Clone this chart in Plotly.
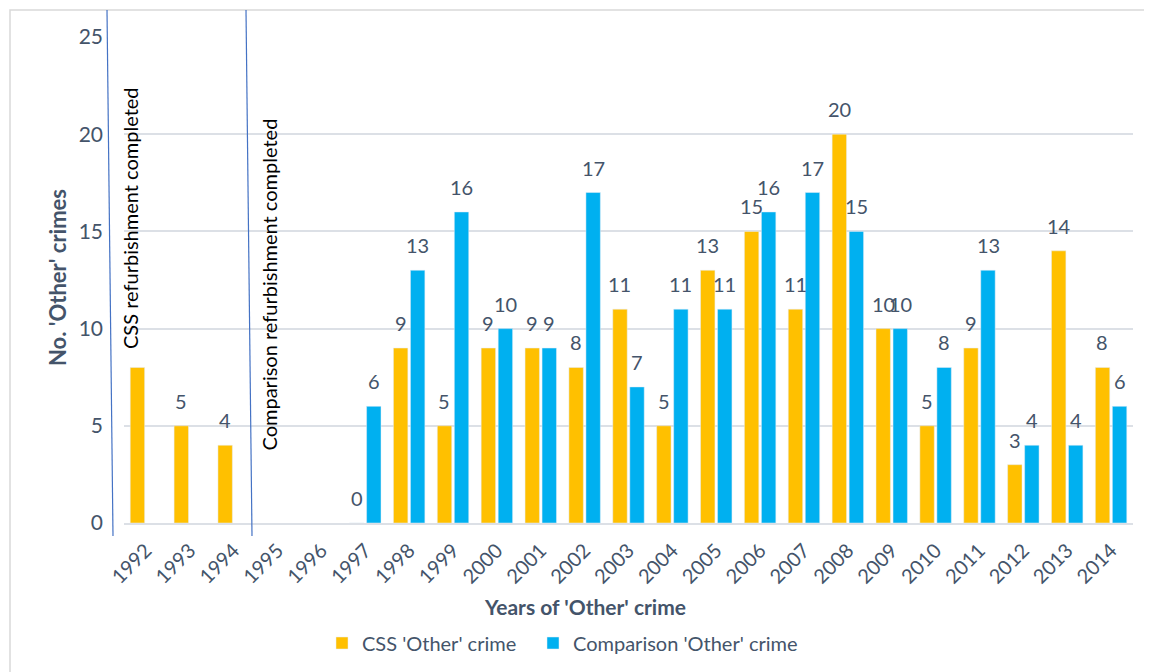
import plotly.graph_objects as go

years = ["1992", "1993", "1994", "1995", "1996", "1997", "1998", "1999", "2000", "2001", "2002",
         "2003", "2004", "2005", "2006", "2007", "2008", "2009", "2010", "2011", "2012", "2013", "2014"]
css_values = [8, 5, 4, None, None, 0, 9, 5, 9, 9, 8, 11, 5, 13, 15, 11, 20, 10, 5, 9, 3, 14, 8]
comp_values = [None, None, None, None, None, 6, 13, 16, 10, 9, 17, 7, 11, 11, 16, 17, 15, 10, 8, 13, 4, 4, 6]
# 1992 CSS label is hidden behind the annotation box in the reference
css_label_visible = [False] + [True] * 22

CSS_COLOR = "#FFC000"
COMP_COLOR = "#00B0F0"
TEXT_COLOR = "#44546A"
GRID_COLOR = "#DCE0E6"
FONT = "Lato"

# page offset of the figure (default body margin)
OFF = 8
W, H = 1144, 664
L, R, T, B = 116, 19, 29, 149


def px(x):
    return (x - OFF - L) / (W - L - R)


def py(y):
    return (H - B - (y - OFF)) / (H - T - B)


fig = go.Figure()
fig.add_trace(go.Bar(x=years, y=css_values, name="CSS 'Other' crime", marker_color=CSS_COLOR,
                     legend="legend"))
fig.add_trace(go.Bar(x=years, y=comp_values, name="Comparison 'Other' crime", marker_color=COMP_COLOR,
                     legend="legend2"))

annotations = []
# data labels (x given as category index)
for vals, shift, visible in [
    (css_values, -8.6, css_label_visible),
    (comp_values, 8.6, [True] * len(years)),
]:
    for i, (v, vis) in enumerate(zip(vals, visible)):
        if v is None or not vis:
            continue
        annotations.append(dict(
            x=i, y=v, xref="x", yref="y", text=str(v), showarrow=False,
            xshift=shift, yshift=11, yanchor="bottom",
            font=dict(family=FONT, size=20, color=TEXT_COLOR),
        ))

# vertical text notes
annotations.append(dict(
    x=px(130), y=py(218), xref="paper", yref="paper", text="CSS refurbishment completed",
    textangle=-90, showarrow=False, xanchor="center", yanchor="middle",
    font=dict(family=FONT, size=20, color="black"),
))
annotations.append(dict(
    x=px(268.5), y=py(285), xref="paper", yref="paper", text="Comparison refurbishment completed",
    textangle=-90, showarrow=False, xanchor="center", yanchor="middle",
    font=dict(family=FONT, size=20, color="black"),
))
# axis titles
annotations.append(dict(
    x=px(57), y=py(278), xref="paper", yref="paper", text="<b>No. 'Other' crimes</b>",
    textangle=-90, showarrow=False, xanchor="center", yanchor="middle",
    font=dict(family=FONT, size=22, color=TEXT_COLOR),
))
annotations.append(dict(
    x=px(585), y=py(606), xref="paper", yref="paper", text="<b>Years of 'Other' crime</b>",
    showarrow=False, xanchor="center", yanchor="middle",
    font=dict(family=FONT, size=21, color=TEXT_COLOR),
))

shapes = [
    # outer chart frame
    dict(type="rect", xref="paper", yref="paper", x0=px(10), x1=px(1300), y0=py(10), y1=py(800),
         line=dict(color="#D9D9D9", width=1.5), fillcolor="rgba(0,0,0,0)", layer="below"),
    # white text-box backgrounds
    dict(type="rect", xref="paper", yref="paper", x0=px(114), x1=px(160), y0=py(60), y1=py(362),
         line=dict(width=0), fillcolor="white", layer="between"),
    dict(type="rect", xref="paper", yref="paper", x0=px(248), x1=px(300), y0=py(105), y1=py(455),
         line=dict(width=0), fillcolor="white", layer="between"),
    # refurbishment marker lines
    dict(type="line", xref="paper", yref="paper", x0=px(107), x1=px(113), y0=py(10), y1=py(536),
         line=dict(color="#4472C4", width=1.2), layer="above"),
    dict(type="line", xref="paper", yref="paper", x0=px(246), x1=px(252), y0=py(10), y1=py(536),
         line=dict(color="#4472C4", width=1.2), layer="above"),
]

legend_common = dict(orientation="h", yanchor="middle", xanchor="left", itemwidth=30,
                     font=dict(family=FONT, size=20, color=TEXT_COLOR),
                     bgcolor="rgba(0,0,0,0)")

fig.update_layout(
    width=W, height=H,
    margin=dict(l=L, r=R, t=T, b=B, autoexpand=False),
    paper_bgcolor="white", plot_bgcolor="white",
    barmode="group", bargap=0.224, bargroupgap=0.153,
    font=dict(family=FONT, color=TEXT_COLOR),
    showlegend=True,
    legend=dict(x=px(322), y=py(643), **legend_common),
    legend2=dict(x=px(533), y=py(643), **legend_common),
    xaxis=dict(type="category", categoryorder="array", categoryarray=years,
               range=[-0.5, len(years) - 0.5], autorange=False,
               tickangle=-45, tickfont=dict(family=FONT, size=20, color=TEXT_COLOR),
               showgrid=False, showline=True, linecolor=GRID_COLOR, linewidth=2,
               ticks="", ticklabelstandoff=6),
    yaxis=dict(range=[0, 25], autorange=False, tickvals=[0, 5, 10, 15, 20, 25],
               tickfont=dict(family=FONT, size=21, color=TEXT_COLOR),
               showgrid=True, gridcolor=GRID_COLOR, gridwidth=2, zeroline=False,
               showline=False, ticks="", ticklabelstandoff=20),
    annotations=annotations,
    shapes=shapes,
)

fig.write_html("out.html")
